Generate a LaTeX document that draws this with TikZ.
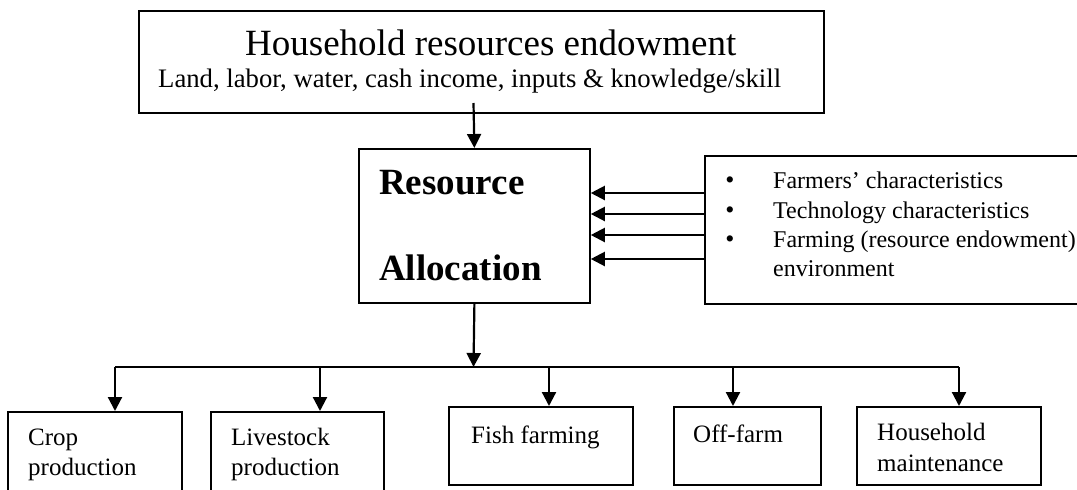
\documentclass[tikz,border=0pt]{standalone}
\usepackage{fontspec}
\setmainfont{Liberation Serif}
\usetikzlibrary{arrows.meta}
\tikzset{
  box/.style={draw, line width=1.8pt, rectangle, inner sep=0pt, anchor=north west},
  arr/.style={line width=2.2pt, -{Triangle[width=14pt,length=14pt]}},
  conn/.style={line width=2.2pt},
  txt/.style={anchor=base west, inner sep=0pt},
  ttl/.style={txt, font=\fontsize{37}{44}\selectfont},
  sub/.style={txt, font=\fontsize{26.7}{31}\selectfont},
  bld/.style={txt, font=\fontsize{37}{44}\selectfont\bfseries},
  bul/.style={txt, font=\fontsize{24}{29}\selectfont},
  bot/.style={txt, font=\fontsize{25}{30}\selectfont},
  dot/.style={anchor=base, inner sep=0pt, font=\fontsize{26}{29}\selectfont}
}
\begin{document}
\begin{tikzpicture}[x=1pt,y=-1pt]
\clip (0,0) rectangle (1077,490);
\fill[white] (0,0) rectangle (1077,490);
% boxes
\node[box, minimum width=685pt, minimum height=102pt] (top) at (138,10) {};
\node[box, minimum width=231pt, minimum height=154pt] (res) at (358,148) {};
\node[box, minimum width=390pt, minimum height=148pt] (fac) at (704,155) {};
\node[box, minimum width=174pt, minimum height=100pt] (crop) at (7,411) {};
\node[box, minimum width=173pt, minimum height=100pt] (live) at (210,411) {};
\node[box, minimum width=184pt, minimum height=78pt] (fish) at (448,406) {};
\node[box, minimum width=147pt, minimum height=78pt] (off) at (673,406) {};
\node[box, minimum width=184pt, minimum height=78pt] (hm) at (856,406) {};
% texts
\node[ttl] (t1) at (245,55) {Household resources endowment};
\node[sub] (t2) at (158,87) {Land, labor, water, cash income, inputs \& knowledge/skill};
\node[bld] (r1) at (379,194) {Resource};
\node[bld] (r2) at (379,280) {Allocation};
\node[dot] (d1) at (730,188) {\textbullet};
\node[dot] (d2) at (730,218) {\textbullet};
\node[dot] (d3) at (730,247) {\textbullet};
\node[bul] (f1) at (773,188) {Farmers’ characteristics};
\node[bul] (f2) at (773,218) {Technology characteristics};
\node[bul] (f3) at (773,247) {Farming (resource endowment)};
\node[bul] (f4) at (773,276) {environment};
\node[bot] (c1) at (28,445) {Crop};
\node[bot] (c2) at (28,475) {production};
\node[bot] (l1) at (231,445) {Livestock};
\node[bot] (l2) at (231,475) {production};
\node[bot] (fi) at (471,443) {Fish farming};
\node[bot] (of) at (693,442) {Off-farm};
\node[bot] (h1) at (877,440) {Household};
\node[bot] (h2) at (877,471) {maintenance};
% connectors
\coordinate (a0) at (473.5,103);
\draw[arr] (a0) -- (res.north);
\foreach \yy [count=\i] in {193,214,235,259} {
  \coordinate (s\i) at (704,\yy);
  \draw[arr] (s\i) -- (s\i -| res.east);
}
\coordinate (bus) at (473.5,367);
\draw[arr] (res.south) -- (bus);
\coordinate (b1) at (115,367);
\coordinate (b2) at (320,367);
\coordinate (b3) at (549,367);
\coordinate (b4) at (733,367);
\coordinate (b5) at (959,367);
\draw[conn] (b1) -- (b5);
\draw[arr] (b1) -- (b1 |- crop.north);
\draw[arr] (b2) -- (b2 |- live.north);
\draw[arr] (b3) -- (b3 |- fish.north);
\draw[arr] (b4) -- (b4 |- off.north);
\draw[arr] (b5) -- (b5 |- hm.north);
\end{tikzpicture}
\end{document}
